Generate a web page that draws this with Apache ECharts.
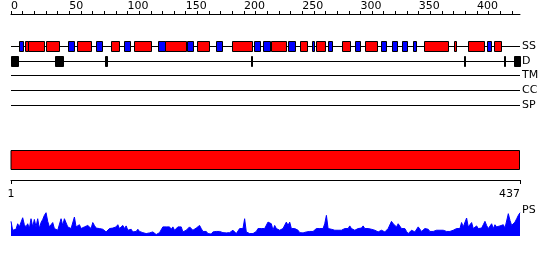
<!DOCTYPE html>
<html><head><meta charset="utf-8">
<script src="https://cdn.jsdelivr.net/npm/echarts@6/dist/echarts.min.js"></script>
<style>html,body{margin:0;padding:0;background:#fff}#c{width:550px;height:260px}</style>
</head><body><div id="c"></div>
<script>
const seqLength = 437;
const topTickLabels = [0, 50, 100, 150, 200, 250, 300, 350, 400];
const endLabels = [1, 437];
const trackNames = ['SS', 'D', 'TM', 'CC', 'SP'];
// secondary structure: helices (red) and strands (blue) [start, end]
const helixStart = [12, 15, 30, 57, 86, 106, 132, 160, 190, 223, 248, 262, 284, 304, 355, 380, 392, 415];
const helixEnd   = [15, 28, 41, 69, 93, 120, 150, 170, 207, 236, 254, 270, 291, 314, 375, 382, 406, 421];
const strandStart = [7, 49, 73, 97, 126, 151, 176, 209, 216, 238, 258, 272, 295, 318, 327, 336, 345, 409];
const strandEnd   = [10, 54, 78, 102, 132, 156, 181, 214, 222, 244, 260, 276, 300, 322, 331, 340, 348, 412];
// disorder regions [start, end]
const disStart = [0, 38, 81, 206, 389, 423, 432];
const disEnd   = [6, 45, 82, 207, 390, 424, 437];
// PS profile (evenly spaced along the sequence)
const psValues = [
61,24,24,28,51,38,38,76,47,38,
51,31,72,38,69,38,72,31,56,69,
86,97,61,38,42,56,31,24,24,24,
72,44,72,69,38,44,31,38,79,38,
31,47,31,31,38,38,44,51,31,56,
44,33,38,31,24,28,31,17,10,31,
38,33,31,38,47,31,38,44,31,42,
24,19,28,17,19,19,28,19,17,14,
17,10,14,13,14,17,19,6,10,14,
17,38,31,38,31,38,28,38,24,31,
38,31,38,17,19,24,31,38,31,24,
31,33,38,44,31,19,17,19,10,6,
8,17,17,19,17,19,17,14,14,13,
14,14,19,24,17,10,17,31,33,31,
72,17,10,10,10,10,13,19,31,38,
31,24,31,38,58,65,51,24,44,
31,38,24,31,31,38,58,44,58,31,
38,31,31,24,14,14,13,14,17,13,
19,24,19,24,31,24,31,28,31,51,
86,31,33,28,31,24,31,24,31,24,
28,31,24,31,42,31,33,24,31,31,
24,33,42,31,24,31,33,28,31,24,
19,17,17,24,19,17,19,31,38,61,
51,58,38,51,47,31,24,31,19,10,
14,24,31,17,24,38,31,19,24,31,
24,28,19,24,19,24,24,19,24,24,
24,26,19,24,19,17,24,28,31,33,
31,56,38,31,75,38,31,56,31,38,
42,31,38,33,47,61,44,31,38,51,
31,47,38,31,42,38,47,33,38,93,
65,44,38,58,72,86,97
];

const FONT = 'DejaVu Sans';
const minorTicks = [];
for (let v = 0; v < seqLength; v += 10) minorTicks.push(v);

function segData(starts, ends, track) {
  return starts.map((s, i) => [s, ends[i], trackNames.indexOf(track)]);
}
function makeRender(color) {
  return function (params, api) {
    const p0 = api.coord([api.value(0), api.value(2)]);
    const p1 = api.coord([api.value(1), api.value(2)]);
    const x0 = Math.round(p0[0]) + 0.5, x1 = Math.round(p1[0]) + 0.5;
    const yc = Math.round(p0[1]);
    return { type: 'rect', shape: { x: x0, y: yc - 4.5, width: Math.max(1, x1 - x0), height: 10 },
      style: { fill: color, stroke: '#000', lineWidth: 1 } };
  };
}
const psData = psValues.map((v, i) => [i * seqLength / (psValues.length - 1), v]);

const chart = echarts.init(document.getElementById('c'));
chart.setOption({
  animation: false,
  backgroundColor: '#fff',
  textStyle: { fontFamily: FONT },
  grid: [
    { left: 11, right: 30, top: 46, height: 59 },
    { left: 11, right: 30, top: 150, height: 20 },
    { left: 11, right: 30, top: 212, height: 24 }
  ],
  xAxis: [
    { type: 'value', gridIndex: 0, min: 0, max: seqLength, position: 'top', offset: 32,
      axisLine: { show: true, onZero: false, lineStyle: { color: '#000', width: 1 } },
      axisTick: { show: true, customValues: minorTicks, length: 3, lineStyle: { color: '#000' } },
      axisLabel: { customValues: topTickLabels, align: 'left', margin: 2, color: '#000', fontSize: 11, fontFamily: FONT },
      splitLine: { show: false } },
    { type: 'value', gridIndex: 1, min: 1, max: seqLength, position: 'bottom', offset: 10,
      axisLine: { show: true, onZero: false, lineStyle: { color: '#000', width: 1 } },
      axisTick: { show: true, customValues: endLabels, length: 4, lineStyle: { color: '#000' } },
      axisLabel: { customValues: endLabels, margin: 9, color: '#000', fontSize: 11, fontFamily: FONT,
        alignMinLabel: 'center', alignMaxLabel: 'right' },
      splitLine: { show: false } },
    { type: 'value', gridIndex: 2, min: 0, max: seqLength, position: 'top', offset: 2,
      name: 'PS', nameLocation: 'end', nameGap: 2,
      nameTextStyle: { align: 'left', verticalAlign: 'middle', color: '#000', fontSize: 11, fontFamily: FONT },
      axisLine: { show: false, onZero: false }, axisTick: { show: false }, axisLabel: { show: false }, splitLine: { show: false } }
  ],
  yAxis: [
    { type: 'category', gridIndex: 0, data: trackNames, inverse: true, boundaryGap: false, position: 'right',
      axisLine: { show: false }, axisTick: { show: false },
      axisLabel: { interval: 0, margin: 2, color: '#000', fontSize: 11, fontFamily: FONT },
      splitLine: { show: true, interval: 0, lineStyle: { color: '#000', width: 1 } } },
    { type: 'category', gridIndex: 1, data: ['chain'], show: false },
    { type: 'value', gridIndex: 2, min: 0, max: 100, show: false }
  ],
  series: [
    { type: 'custom', xAxisIndex: 0, yAxisIndex: 0, encode: { x: [0, 1], y: 2 },
      renderItem: makeRender('#ff0000'), data: segData(helixStart, helixEnd, 'SS') },
    { type: 'custom', xAxisIndex: 0, yAxisIndex: 0, encode: { x: [0, 1], y: 2 },
      renderItem: makeRender('#0000ff'), data: segData(strandStart, strandEnd, 'SS') },
    { type: 'custom', xAxisIndex: 0, yAxisIndex: 0, encode: { x: [0, 1], y: 2 },
      renderItem: makeRender('#000000'), data: segData(disStart, disEnd, 'D') },
    { type: 'bar', xAxisIndex: 1, yAxisIndex: 1, data: [seqLength], barWidth: 20,
      itemStyle: { color: '#ff0000', borderColor: '#000', borderWidth: 1 } },
    { type: 'line', xAxisIndex: 2, yAxisIndex: 2, data: psData, showSymbol: false, symbol: 'none',
      lineStyle: { color: '#0000ff', width: 1 }, areaStyle: { color: '#0000ff', opacity: 1 } }
  ]
});
</script></body></html>
